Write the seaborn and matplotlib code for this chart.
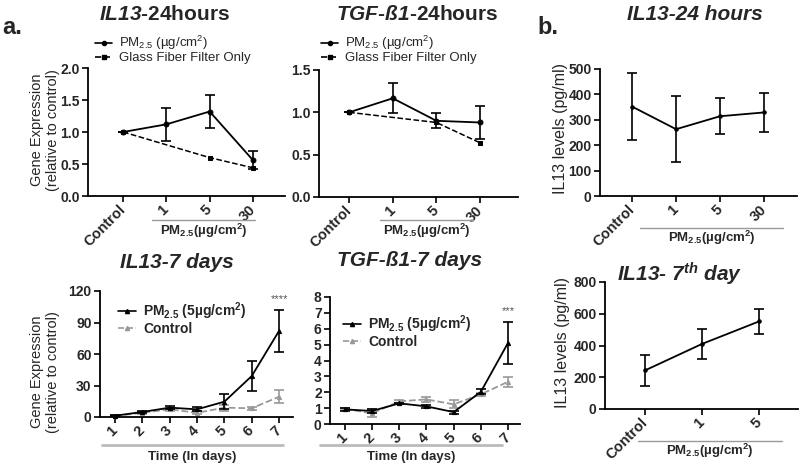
import numpy as np
import pandas as pd
import matplotlib
matplotlib.use("Agg")
import matplotlib.pyplot as plt
from matplotlib.lines import Line2D
import seaborn as sns

# ---------------- data ----------------
dose_labels_24h = ["Control", "1", "5", "30"]
dose_labels_7d = ["Control", "1", "5"]
days = [1, 2, 3, 4, 5, 6, 7]

il13_24h_pm = [1.0, 1.12, 1.32, 0.56]
il13_24h_pm_sd = [0.0, 0.26, 0.26, 0.14]
il13_24h_gf = [1.0, np.nan, 0.60, 0.44]

tgf_24h_pm = [1.0, 1.166, 0.90, 0.88]
tgf_24h_pm_sd = [0.0, 0.175, 0.09, 0.19]
tgf_24h_gf = [1.0, np.nan, 0.88, 0.64]

il13_prot_24h = [352, 263, 314, 329]
il13_prot_24h_sd = [133, 131, 70, 78]

il13_7d_pm = [1.2, 4.8, 8.9, 7.3, 14.6, 39.0, 82.0]
il13_7d_pm_sd = [0.5, 1.0, 1.5, 2.0, 7.0, 14.5, 20.2]
il13_7d_ctrl = [1.0, 4.0, 7.3, 4.0, 8.9, 8.3, 19.3]
il13_7d_ctrl_sd = [0.5, 1.0, 1.5, 1.5, 3.0, 1.5, 6.0]

tgf_7d_pm = [0.92, 0.82, 1.30, 1.11, 0.75, 2.03, 5.11]
tgf_7d_pm_sd = [0.08, 0.15, 0.05, 0.10, 0.10, 0.15, 1.30]
tgf_7d_ctrl = [0.95, 0.67, 1.43, 1.55, 1.24, 1.87, 2.66]
tgf_7d_ctrl_sd = [0.05, 0.25, 0.08, 0.15, 0.25, 0.10, 0.33]

il13_prot_7d = [243, 410, 552]
il13_prot_7d_sd = [100, 97, 77]

# ---------------- style ----------------
sns.set_style("ticks")
plt.rcParams["font.family"] = ["Liberation Sans", "DejaVu Sans"]
plt.rcParams["mathtext.fontset"] = "custom"
plt.rcParams["mathtext.rm"] = "Liberation Sans"
plt.rcParams["mathtext.it"] = "Liberation Sans:italic"
plt.rcParams["mathtext.bf"] = "Liberation Sans:bold"
plt.rcParams["mathtext.bfit"] = "Liberation Sans:italic:bold"

W, H = 800, 466
fig = plt.figure(figsize=(W / 100, H / 100), dpi=100)
GRAY = "#999999"


def add_ax(l, t, r, b):
    return fig.add_axes([l / W, 1 - b / H, (r - l) / W, (b - t) / H])


def fx(x):
    return x / W


def fy(y):
    return 1 - y / H


def style(ax, xlim, ylim, xticks, xticklabels, yticks, yfmt):
    ax.set_xlim(*xlim)
    ax.set_ylim(*ylim)
    for s in ["top", "right"]:
        ax.spines[s].set_visible(False)
    for s in ["left", "bottom"]:
        ax.spines[s].set_linewidth(1.3)
        ax.spines[s].set_color("black")
    ax.set_xticks(xticks)
    ax.set_xticklabels(xticklabels, rotation=45, ha="right", va="center",
                       rotation_mode="anchor", fontsize=10.5, fontweight="bold")
    ax.set_yticks(yticks)
    ax.set_yticklabels([yfmt.format(v) for v in yticks], fontsize=10,
                       fontweight="bold")
    ax.tick_params(direction="out", length=4, width=1.2, color="black", pad=2)
    ax.tick_params(axis="x", pad=4)
    ax.set_xlabel("")
    ax.set_ylabel("")


def line(ax, x, y, color, marker, ms, ls="-", lw=1.3):
    df = pd.DataFrame({"x": x, "y": y}).dropna()
    sns.lineplot(data=df, x="x", y="y", ax=ax, color=color, marker=marker,
                 markersize=ms, linewidth=lw, linestyle=ls, errorbar=None,
                 markeredgecolor=color, markerfacecolor=color, clip_on=False)


def ebar(ax, x, y, sd, color, lw=1.2):
    ax.errorbar(x, y, yerr=sd, fmt="none", ecolor=color, elinewidth=lw,
                capsize=3.5, capthick=lw, clip_on=False)


pm_label = r"PM$_{2.5}$ (µg/cm$^{2}$)"
pm_label5 = r"PM$_{\mathbf{2.5}}$ (5µg/cm$^{\mathbf{2}}$)"
pm_xlabel = r"PM$_{\mathbf{2.5}}$(µg/cm$^{\mathbf{2}}$)"

# ---------------- panel 1: IL13-24hours ----------------
ax1 = add_ax(88, 68, 285, 196)
x4 = list(range(len(dose_labels_24h)))
line(ax1, x4, il13_24h_gf, "black", "s", 3.5, ls="--", lw=1.1)
line(ax1, x4, il13_24h_pm, "black", "o", 3.5)
ebar(ax1, x4, il13_24h_pm, il13_24h_pm_sd, "black")
style(ax1, (-0.81, 3.74), (0, 2.0), x4, dose_labels_24h,
      [0, 0.5, 1.0, 1.5, 2.0], "{:.1f}")

# ---------------- panel 2: TGF-ß1-24hours ----------------
ax2 = add_ax(319, 70, 518, 197)
line(ax2, x4, tgf_24h_gf, "black", "s", 3.5, ls="--", lw=1.1)
line(ax2, x4, tgf_24h_pm, "black", "o", 3.5)
ebar(ax2, x4, tgf_24h_pm, tgf_24h_pm_sd, "black")
style(ax2, (-0.69, 3.87), (0, 1.5), x4, dose_labels_24h,
      [0, 0.5, 1.0, 1.5], "{:.1f}")

# ---------------- panel 3: IL13-24 hours protein ----------------
ax3 = add_ax(600, 69, 797, 196)
line(ax3, x4, il13_prot_24h, "black", "o", 2.5)
ebar(ax3, x4, il13_prot_24h, il13_prot_24h_sd, "black")
style(ax3, (-0.73, 3.75), (0, 500), x4, dose_labels_24h,
      [0, 100, 200, 300, 400, 500], "{:d}")

# ---------------- panel 4: IL13-7 days ----------------
ax4 = add_ax(100, 291, 293, 417)
line(ax4, days, il13_7d_ctrl, GRAY, "^", 3, ls="--", lw=1.3)
ebar(ax4, days, il13_7d_ctrl, il13_7d_ctrl_sd, GRAY)
line(ax4, days, il13_7d_pm, "black", "^", 3)
ebar(ax4, days, il13_7d_pm, il13_7d_pm_sd, "black")
style(ax4, (0.45, 7.51), (0, 120), days, [str(d) for d in days],
      [0, 30, 60, 90, 120], "{:d}")
ax4.text(7, 112, "****", ha="center", va="center", fontsize=8, color="#555555")

# ---------------- panel 5: TGF-ß1-7 days ----------------
ax5 = add_ax(330, 297, 520, 424)
line(ax5, days, tgf_7d_ctrl, GRAY, "^", 3, ls="--", lw=1.3)
ebar(ax5, days, tgf_7d_ctrl, tgf_7d_ctrl_sd, GRAY)
line(ax5, days, tgf_7d_pm, "black", "^", 3)
ebar(ax5, days, tgf_7d_pm, tgf_7d_pm_sd, "black")
style(ax5, (0.45, 7.44), (0, 8), days, [str(d) for d in days],
      list(range(0, 9)), "{:d}")
ax5.text(7, 7.1, "***", ha="center", va="center", fontsize=8, color="#555555")

# ---------------- panel 6: IL13- 7th day protein ----------------
ax6 = add_ax(605, 282, 798, 409)
x3 = list(range(len(dose_labels_7d)))
line(ax6, x3, il13_prot_7d, "black", "o", 2.5)
ebar(ax6, x3, il13_prot_7d, il13_prot_7d_sd, "black")
style(ax6, (-0.70, 2.68), (0, 800), x3, dose_labels_7d,
      [0, 200, 400, 600, 800], "{:d}")

# ---------------- legends ----------------
def legend(ax, x, y, items, fs, weight, spacing):
    handles = []
    labels = []
    for lab, col, mk, ls, ms in items:
        handles.append(Line2D([0], [0], color=col, marker=mk, linestyle=ls,
                              markersize=ms, linewidth=1.2))
        labels.append(lab)
    lg = ax.legend(handles, labels, loc="upper left",
                   bbox_to_anchor=(fx(x), fy(y)), bbox_transform=fig.transFigure,
                   frameon=False, handlelength=1.3, handletextpad=0.5,
                   labelspacing=spacing, borderpad=0, borderaxespad=0,
                   prop={"size": fs, "weight": weight})
    return lg

legend(ax1, 95, 34, [(pm_label, "black", "o", "-", 3),
                     ("Glass Fiber Filter Only", "black", "s", "--", 3)],
       9.5, "normal", 0.0)
legend(ax2, 321, 34, [(pm_label, "black", "o", "-", 3),
                      ("Glass Fiber Filter Only", "black", "s", "--", 3)],
       9.5, "normal", 0.0)
legend(ax4, 118, 300, [(pm_label5, "black", "^", "-", 3),
                       ("Control", GRAY, "^", "--", 3)], 10, "bold", 0.0)
legend(ax5, 343, 313, [(pm_label5, "black", "^", "-", 3),
                       ("Control", GRAY, "^", "--", 3)], 10, "bold", 0.0)

# ---------------- titles ----------------
fig.text(fx(165), fy(15), r"$\mathbfit{IL13}$-24hours", ha="center",
         va="center", fontsize=15, fontweight="bold")
fig.text(fx(417), fy(15), r"$\mathbfit{TGF}$-$\mathbfit{ß1}$-24hours",
         ha="center", va="center", fontsize=15, fontweight="bold")
fig.text(fx(695), fy(15), "IL13-24 hours", ha="center", va="center",
         fontsize=15, fontweight="bold", fontstyle="italic")
fig.text(fx(177), fy(263), "IL13-7 days", ha="center", va="center",
         fontsize=15, fontweight="bold", fontstyle="italic")
fig.text(fx(410), fy(261), "TGF-ß1-7 days", ha="center", va="center",
         fontsize=15, fontweight="bold", fontstyle="italic")
fig.text(fx(680), fy(274), r"IL13- 7$^{\mathbfit{th}}$ day", ha="center",
         va="center", fontsize=15, fontweight="bold", fontstyle="italic")

fig.text(fx(2), fy(27), "a.", ha="left", va="center", fontsize=17,
         fontweight="bold")
fig.text(fx(537), fy(28), "b.", ha="left", va="center", fontsize=17,
         fontweight="bold")

# ---------------- y labels ----------------
for yc in (130, 372):
    fig.text(fx(37), fy(yc), "Gene Expression", rotation=90, ha="center",
             va="center", fontsize=10.5)
    fig.text(fx(53), fy(yc), "(relative to control)", rotation=90,
             ha="center", va="center", fontsize=10.5)
fig.text(fx(560), fy(128), "IL13 levels (pg/ml)", rotation=90, ha="center",
         va="center", fontsize=11.5)
fig.text(fx(563), fy(343), "IL13 levels (pg/ml)", rotation=90, ha="center",
         va="center", fontsize=11.5)

# ---------------- x group labels ----------------
def group(x0, x1, yline, ylab, text, color=GRAY, lw=1.0):
    fig.add_artist(Line2D([fx(x0), fx(x1)], [fy(yline), fy(yline)],
                          color=color, linewidth=lw,
                          transform=fig.transFigure))
    fig.text(fx((x0 + x1) / 2), fy(ylab), text, ha="center", va="center",
             fontsize=9.5, fontweight="bold")

group(152, 255, 220, 231, pm_xlabel)
group(380, 473, 220, 231, pm_xlabel)
group(640, 783, 228, 238, pm_xlabel)
group(638, 782, 441, 451, pm_xlabel)
group(102, 283, 445, 457, "Time (In days)", color="#bbbbbb", lw=2.0)
group(320, 502, 445, 457, "Time (In days)", color="#bbbbbb", lw=2.0)

fig.savefig("out.png", dpi=100)
